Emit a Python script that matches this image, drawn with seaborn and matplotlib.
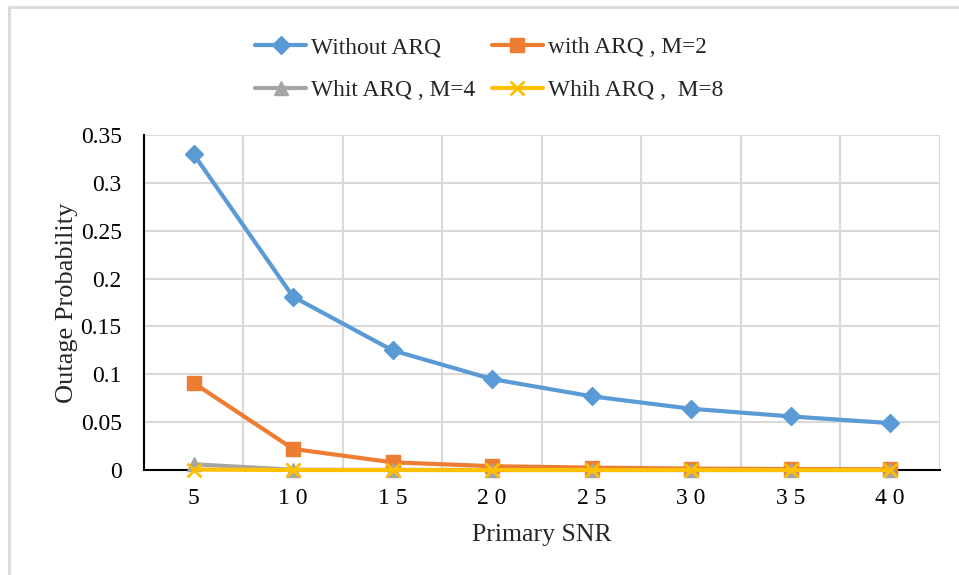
import matplotlib
matplotlib.use("Agg")
import matplotlib.pyplot as plt
import matplotlib.lines as mlines
import seaborn as sns
import pandas as pd

# Primary SNR categories and outage probabilities per scheme
snr = [5, 10, 15, 20, 25, 30, 35, 40]
snr_labels = ["5", "1 0", "1 5", "2 0", "2 5", "3 0", "3 5", "4 0"]
without_arq = [0.330, 0.181, 0.125, 0.095, 0.077, 0.064, 0.056, 0.049]
arq_m2 = [0.091, 0.022, 0.008, 0.004, 0.0025, 0.0015, 0.0010, 0.0008]
arq_m4 = [0.006, 0.0003, 0.0001, 0.0, 0.0, 0.0, 0.0, 0.0]
arq_m8 = [0.0005, 0.0, 0.0, 0.0, 0.0, 0.0, 0.0, 0.0]

series = [
    ("Without ARQ", without_arq, "#5B9BD5", "D", 9.5),
    ("with ARQ , M=2", arq_m2, "#ED7D31", "s", 10.5),
    ("Whit ARQ , M=4", arq_m4, "#A5A5A5", "^", 10.5),
    ("Whih ARQ ,  M=8", arq_m8, "#FFC000", "x", 10),
]

sns.set_theme(style="white")
plt.rcParams["font.family"] = ["Liberation Serif", "DejaVu Serif"]

fig = plt.figure(figsize=(9.59, 5.75), dpi=100)
ax = fig.add_axes([0.150, 0.1826, 0.830, 0.5826])

pos = list(range(len(snr)))
handles = {}
for z, (name, vals, color, marker, ms) in enumerate(series):
    df = pd.DataFrame({"pos": pos, "value": vals})
    sns.lineplot(data=df, x="pos", y="value", ax=ax, color=color, linewidth=3,
                 marker=marker, markersize=ms, markeredgecolor=color,
                 markeredgewidth=2 if marker == "x" else 1, zorder=4 + z,
                 clip_on=False)
    handles[name] = mlines.Line2D([], [], color=color, linewidth=3, marker=marker,
                                  markersize=ms, markeredgecolor=color,
                                  markeredgewidth=2 if marker == "x" else 1)

ax.set_xlim(-0.5, len(snr) - 0.5)
ax.set_ylim(0, 0.35)
ax.set_yticks([0, 0.05, 0.1, 0.15, 0.2, 0.25, 0.3, 0.35])
ax.set_yticklabels(["0", "0.05", "0.1", "0.15", "0.2", "0.25", "0.3", "0.35"])
ax.set_xticks(pos)
ax.set_xticklabels(snr_labels)

# vertical gridlines between categories, horizontal at every tick
for b in [p + 0.5 for p in pos]:
    ax.axvline(b, color="#D9D9D9", linewidth=1.5, zorder=1)
for t in [0.05, 0.1, 0.15, 0.2, 0.25, 0.3, 0.35]:
    ax.axhline(t, color="#D9D9D9", linewidth=1.5, zorder=1)

for s in ["top", "right"]:
    ax.spines[s].set_visible(False)
for s in ["left", "bottom"]:
    ax.spines[s].set_color("black")
    ax.spines[s].set_linewidth(1.5)
    ax.spines[s].set_zorder(2)
ax.tick_params(axis="y", length=0, labelsize=17, colors="black", pad=16)
ax.tick_params(axis="x", length=0, labelsize=17, colors="black", pad=13)
ax.set_xlabel("Primary SNR", fontsize=18.5, labelpad=11)
ax.set_ylabel("Outage Probability", fontsize=19, labelpad=2)

order = ["Without ARQ", "Whit ARQ , M=4", "with ARQ , M=2", "Whih ARQ ,  M=8"]
fig.legend([handles[n] for n in order], order, loc="upper center",
           bbox_to_anchor=(0.510, 0.972), ncol=2, frameon=False, fontsize=16.8,
           handlelength=2.2, labelspacing=0.9, columnspacing=0.7, handletextpad=0.2)

# chart area border along left and top
fig.add_artist(mlines.Line2D([0.0099, 0.0099], [0.0, 0.988], color="#D9D9D9",
                             linewidth=2, transform=fig.transFigure))
fig.add_artist(mlines.Line2D([0.0099, 1.0], [0.988, 0.988], color="#D9D9D9",
                             linewidth=2, transform=fig.transFigure))

fig.savefig("out.png", dpi=100)
